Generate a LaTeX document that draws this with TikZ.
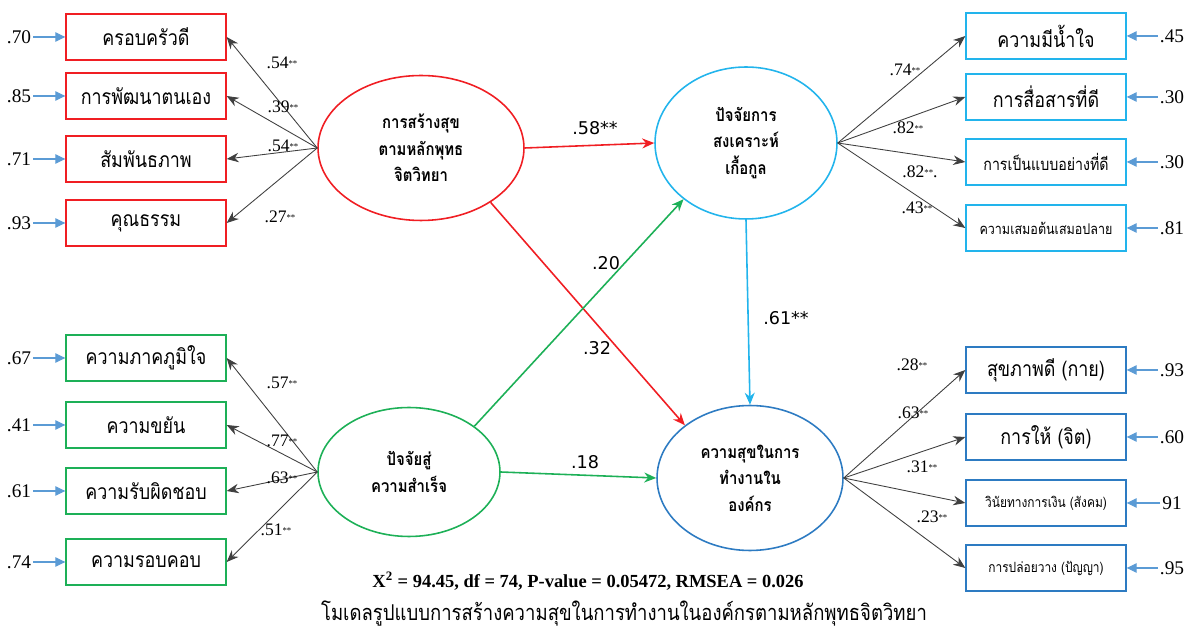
\documentclass[tikz,border=0pt]{standalone}
\usepackage{fontspec}
\setmainfont{Liberation Serif}
\newfontfamily\thaifont[Script=Thai,FakeStretch=0.85]{Loma}
\newfontfamily\pathfont{DejaVu Sans}
\usetikzlibrary{shapes.geometric,arrows.meta}
\definecolor{fcRed}{HTML}{F01E23}
\definecolor{fcSky}{HTML}{22B4EC}
\definecolor{fcGreen}{HTML}{1DB057}
\definecolor{fcBlue}{HTML}{2D7BC2}
\definecolor{fcErr}{HTML}{5B9BD5}
\newcommand{\twostar}{\raisebox{0.25ex}{\fontsize{5}{5}\selectfont**}}
\tikzset{
  obsbox/.style={draw=#1, line width=0.8pt, minimum width=3.2cm, minimum height=0.92cm,
    inner sep=1pt, font=\thaifont\fontsize{12}{14}\selectfont},
  latent/.style={ellipse, draw=#1, line width=0.9pt, inner sep=0pt, align=center,
    font=\thaifont\bfseries\fontsize{10}{15}\selectfont},
  load/.style={-{Stealth[length=2.4mm,width=1.9mm]}, draw=black!75, line width=0.5pt},
  errarr/.style={-{Triangle[length=2mm,width=1.9mm]}, draw=fcErr, line width=0.6pt},
  struct/.style={-{Stealth[length=2.4mm,width=2mm]}, draw=#1, line width=0.9pt},
  errlbl/.style={inner sep=1pt, font=\fontsize{11}{13}\selectfont},
  loadlbl/.style={inner sep=0pt, font=\fontsize{10}{12}\selectfont},
  pathlbl/.style={inner sep=0pt, font=\pathfont\fontsize{10}{12}\selectfont},
}

\begin{document}
\begin{tikzpicture}[x=0.02cm, y=-0.02cm]
  \useasboundingbox (0,0) rectangle (1187,634);

  % ---- latent factors ----
  \node[latent=fcRed, minimum width=4.12cm, minimum height=2.9cm] (fR) at (421,148)
    {การสร้างสุข\\ตามหลักพุทธ\\จิตวิทยา};
  \node[latent=fcSky, minimum width=3.64cm, minimum height=3.04cm] (fS) at (746,143)
    {ปัจจัยการ\\สงเคราะห์\\เกื้อกูล};
  \node[latent=fcGreen, minimum width=3.64cm, minimum height=2.58cm] (fG) at (409,472)
    {ปัจจัยสู่\\ความสำเร็จ};
  \node[latent=fcBlue, minimum width=3.72cm, minimum height=2.9cm] (fB) at (750,478)
    {ความสุขในการ\\ทำงานใน\\องค์กร};

  % ---- left top: red indicators ----
  \foreach \i/\y/\t/\e/\lx/\ly/\l in {1/37/ครอบครัวดี/.70/282/63/.54,
      2/96/การพัฒนาตนเอง/.85/283/107/.39, 3/159/สัมพันธภาพ/.71/283/146/.54,
      4/223/คุณธรรม/.93/280/217/.27} {
    \node[obsbox=fcRed] (R\i) at (146,\y) {\t};
    \node[errlbl] (eR\i) at (19,\y) {\e};
    \draw[errarr] (eR\i) -- (R\i);
    \draw[load] (fR.west) -- (R\i.east);
    \node[loadlbl] (lR\i) at (\lx,\ly) {\l\twostar};
  }

  % ---- left bottom: green indicators ----
  \foreach \i/\y/\t/\e/\lx/\ly/\l in {1/358/ความภาคภูมิใจ/.67/282/383/.57,
      2/425/ความขยัน/.41/282/441/.77, 3/491/ความรับผิดชอบ/.61/282/478/.63,
      4/562/ความรอบคอบ/.74/276/530/.51} {
    \node[obsbox=fcGreen] (G\i) at (146,\y) {\t};
    \node[errlbl] (eG\i) at (19,\y) {\e};
    \draw[errarr] (eG\i) -- (G\i);
    \draw[load] (fG.west) -- (G\i.east);
    \node[loadlbl] (lG\i) at (\lx,\ly) {\l\twostar};
  }

  % ---- right top: sky indicators ----
  \foreach \i/\y/\t/\e/\lx/\ly/\l in {1/36/ความมีน้ำใจ/.45/905/70/.74\twostar,
      2/97/การสื่อสารที่ดี/.30/908/128/.82\twostar,
      3/162/{\fontsize{9.5}{11}\selectfont การเป็นแบบอย่างที่ดี}/.30/920/172/.82\twostar.,
      4/228/{\fontsize{8.4}{10}\selectfont ความเสมอต้นเสมอปลาย}/.81/917/208/.43\twostar} {
    \node[obsbox=fcSky] (S\i) at (1046,\y) {\t};
    \node[errlbl] (eS\i) at (1172,\y) {\e};
    \draw[errarr] (eS\i) -- (S\i);
    \draw[load] (fS.east) -- (S\i.west);
    \node[loadlbl] (lS\i) at (\lx,\ly) {\l};
  }

  % ---- right bottom: blue indicators ----
  \foreach \i/\y/\t/\e/\lx/\ly/\l in {1/370/สุขภาพดี (กาย)/.93/912/365/.28,
      2/437/การให้ (จิต)/.60/913/413/.63,
      3/503/{\fontsize{8}{10}\selectfont วินัยทางการเงิน (สังคม)}/91/922/467/.31,
      4/568/{\fontsize{8}{10}\selectfont การปล่อยวาง (ปัญญา)}/.95/932/517/.23} {
    \node[obsbox=fcBlue] (B\i) at (1046,\y) {\t};
    \node[errlbl] (eB\i) at (1172,\y) {\e};
    \draw[errarr] (eB\i) -- (B\i);
    \draw[load] (fB.east) -- (B\i.west);
    \node[loadlbl] (lB\i) at (\lx,\ly) {\l\twostar};
  }

  % ---- structural paths ----
  \draw[struct=fcRed] (fR.east) -- (fS.west);
  \draw[struct=fcRed] (fR.-38) -- (fB.141);
  \draw[struct=fcGreen] (fG.35) -- (fS.222);
  \draw[struct=fcGreen] (fG.east) -- (fB.west);
  \draw[struct=fcSky] (fS.south) -- (fB.north);
  \node[pathlbl] (p1) at (595,128) {.58**};
  \node[pathlbl] (p2) at (606,263) {.20};
  \node[pathlbl] (p3) at (597,348) {.32};
  \node[pathlbl] (p4) at (786,318) {.61**};
  \node[pathlbl] (p5) at (585,462) {.18};

  % ---- fit and caption ----
  \node[font=\bfseries\fontsize{10.5}{13}\selectfont] (fit) at (588,581)
    {X\textsuperscript{2} = 94.45, df = 74, P-value = 0.05472, RMSEA = 0.026};
  \node[inner sep=0pt, font=\thaifont\fontsize{12.4}{14}\selectfont] (cap) at (624,614)
    {โมเดลรูปแบบการสร้างความสุขในการทำงานในองค์กรตามหลักพุทธจิตวิทยา};
\end{tikzpicture}
\end{document}
